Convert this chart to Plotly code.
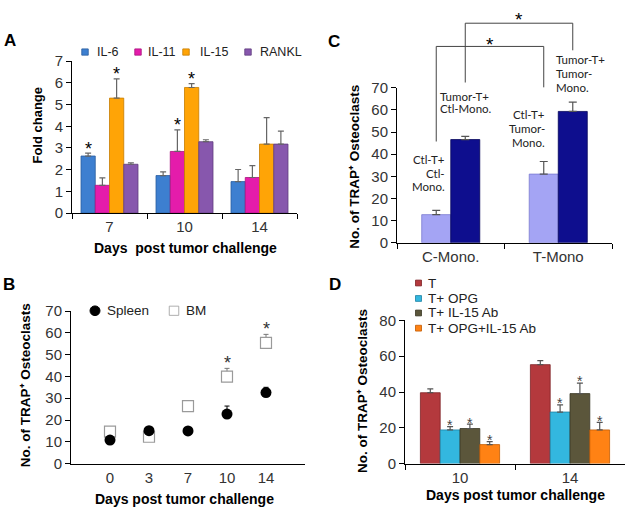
import plotly.graph_objects as go

W, H = 629, 518
FONT = "Liberation Sans, Arial, sans-serif"

# ---------------- data ----------------
# Panel A: fold change of cytokines
a_days = ["7", "10", "14"]
a_names = ["IL-6", "IL-11", "IL-15", "RANKL"]
a_il6 = [2.63, 1.73, 1.45]
a_il6_err = [0.13, 0.17, 0.56]
a_il11 = [1.28, 2.84, 1.64]
a_il11_err = [0.34, 1.00, 0.55]
a_il15 = [5.30, 5.79, 3.18]
a_il15_err = [0.89, 0.18, 1.22]
a_rankl = [2.25, 3.29, 3.18]
a_rankl_err = [0.07, 0.09, 0.60]
a_sig = [[1, 0, 0], [0, 1, 0], [1, 1, 0], [0, 0, 0]]
a_colors = ["#3d7fd0", "#e41cab", "#ffa406", "#8757ad"]
a_lines = ["#2a5d9e", "#a8137d", "#c77c00", "#5f3c7d"]

# Panel B: TRAP+ osteoclasts, spleen vs BM
b_days = ["0", "3", "7", "10", "14"]
b_spleen = [10.8, 15.1, 15.0, 22.7, 32.6]
b_spleen_err = [0, 0, 0, 3.7, 2.4]
b_bm = [14.7, 12.3, 26.4, 39.9, 55.4]
b_bm_err = [0, 0, 0, 3.8, 3.9]
b_sig = [0, 0, 0, 1, 1]

# Panel C: co-culture
c_groups = ["C-Mono.", "T-Mono"]
c_ctl_t = [12.7, 31.0]
c_ctl_t_err = [1.9, 5.7]
c_tumor_t = [46.6, 59.3]
c_tumor_t_err = [1.4, 4.2]
c_labels_ctl = [["Ctl-T+", "Ctl-", "Mono."], ["Ctl-T+", "Tumor-", "Mono."]]
c_labels_tumor = [["Tumor-T+", "Ctl-Mono."], ["Tumor-T+", "Tumor-", "Mono."]]

# Panel D: treatments
d_days = ["10", "14"]
d_names = ["T", "T+ OPG", "T+ IL-15 Ab", "T+ OPG+IL-15 Ab"]
d_t = [39.6, 55.3]
d_t_err = [2.2, 2.2]
d_opg = [18.8, 28.8]
d_opg_err = [1.9, 4.0]
d_il15ab = [19.6, 39.1]
d_il15ab_err = [2.4, 5.9]
d_combo = [10.6, 18.8]
d_combo_err = [1.7, 4.2]
d_sig = [[0, 0], [1, 1], [1, 1], [1, 1]]
d_colors = ["#b4393d", "#33b7df", "#5b563b", "#ff8214"]
d_lines = ["#7e2226", "#1c82a3", "#3a3724", "#c25a00"]

Y_TITLE_TRAP = "No. of TRAP\u207a Osteoclasts"
X_TITLE = "Days post tumor challenge"
X_TITLE_A = "Days  post tumor challenge"


def X(p):
    return p / W


def Y(p):
    return 1 - p / H


fig = go.Figure()
annotations = []
shapes = []

axis_common = dict(showline=True, linecolor="black", linewidth=1, ticks="outside",
                   ticklen=5, tickcolor="black", showgrid=False, zeroline=False,
                   tickfont=dict(family=FONT, size=15, color="#333"), fixedrange=True)


def star(x, y, xref, yref, size, above, color="black"):
    annotations.append(dict(x=x, y=y, xref=xref, yref=yref, text="*", showarrow=False,
                            font=dict(family=FONT, size=size, color=color),
                            yanchor="middle", xanchor="center",
                            yshift=above - 0.24 * size))


# ---------------- Panel A ----------------
wa = 0.19
a_vals = [a_il6, a_il11, a_il15, a_rankl]
a_errs = [a_il6_err, a_il11_err, a_il15_err, a_rankl_err]
for i, name in enumerate(a_names):
    off = (i - 2) * wa
    fig.add_bar(x=a_days, y=a_vals[i], width=wa, offset=off, name=name, showlegend=False,
                marker=dict(color=a_colors[i], line=dict(color=a_lines[i], width=0.8)),
                error_y=dict(type="data", array=a_errs[i], arrayminus=[0] * len(a_days),
                             symmetric=False, color="#666", thickness=1.2, width=3),
                xaxis="x", yaxis="y")
    for j in range(len(a_days)):
        if a_sig[i][j]:
            star(j + off + wa / 2, a_vals[i][j] + a_errs[i][j], "x", "y", 18, 9)

# ---------------- Panel B ----------------
fig.add_scatter(x=b_days, y=b_bm, mode="markers", name="BM", showlegend=False,
                marker=dict(symbol="square", size=11, color="white",
                            line=dict(color="#9a9a9a", width=1.2)),
                error_y=dict(type="data", array=b_bm_err, arrayminus=[0] * 5, symmetric=False,
                             color="#777", thickness=1, width=2.5),
                xaxis="x2", yaxis="y2")
fig.add_scatter(x=b_days, y=b_spleen, mode="markers", name="Spleen", showlegend=False,
                marker=dict(symbol="circle", size=11, color="black"),
                error_y=dict(type="data", array=b_spleen_err, arrayminus=[0] * 5, symmetric=False,
                             color="black", thickness=1, width=2.5),
                xaxis="x2", yaxis="y2")
for j, s in enumerate(b_sig):
    if s:
        star(j, b_bm[j] + b_bm_err[j], "x2", "y2", 18, 10, "#333")

# ---------------- Panel C ----------------
wc = 0.27
fig.add_bar(x=c_groups, y=c_ctl_t, width=wc, offset=-wc, name="Ctl-T", showlegend=False,
            marker=dict(color="#a4a4f4", line=dict(color="#7a7ad0", width=0.8)),
            error_y=dict(type="data", array=c_ctl_t_err, arrayminus=[0, 0], symmetric=False,
                         color="#555", thickness=1.2, width=4),
            xaxis="x3", yaxis="y3")
fig.add_bar(x=c_groups, y=c_tumor_t, width=wc, offset=0, name="Tumor-T", showlegend=False,
            marker=dict(color="#0e0e8e", line=dict(color="#06065a", width=0.8)),
            error_y=dict(type="data", array=c_tumor_t_err, arrayminus=[0, 0], symmetric=False,
                         color="#555", thickness=1.2, width=4),
            xaxis="x3", yaxis="y3")


# significance brackets (connect bar centres of the two groups)
def bracket(xl, xr, yl, yr, ytop, ystar):
    for (x0, y0, x1, y1) in [(xl, yl, xl, ytop), (xl, ytop, xr, ytop), (xr, ytop, xr, yr)]:
        shapes.append(dict(type="line", xref="x3", yref="paper", x0=x0, x1=x1,
                           y0=Y(y0), y1=Y(y1), line=dict(color="#444", width=1)))
    annotations.append(dict(x=(xl + xr) / 2, y=Y(ystar), xref="x3", yref="paper", text="*",
                            showarrow=False, font=dict(family=FONT, size=19, color="black"),
                            yanchor="middle", yshift=-4))


bracket(0 - wc / 2, 1 - wc / 2, 137, 81, 38.7, 33)
bracket(0 + wc / 2, 1 + wc / 2, 76, 42.7, 14.7, 7)

lab_font = dict(family="Lato, Carlito, sans-serif", size=11.5, color="#222")


def label_block(lines, x, ys, anchor):
    for line, yy in zip(lines, ys):
        annotations.append(dict(x=X(x), y=Y(yy), xref="paper", yref="paper", text=line,
                                showarrow=False, xanchor=anchor, yanchor="middle",
                                font=lab_font))


label_block(c_labels_ctl[0], 447, [156, 170, 184], "right")
label_block(c_labels_ctl[1], 547, [109, 124, 138.5], "right")
label_block(c_labels_tumor[0], 438, [90.5, 103], "left")
label_block(c_labels_tumor[1], 554, [52.5, 67, 81], "left")

# ---------------- Panel D ----------------
wd = 0.18
d_vals = [d_t, d_opg, d_il15ab, d_combo]
d_errs = [d_t_err, d_opg_err, d_il15ab_err, d_combo_err]
for i, name in enumerate(d_names):
    off = (i - 2) * wd
    fig.add_bar(x=d_days, y=d_vals[i], width=wd, offset=off, name=name, showlegend=False,
                marker=dict(color=d_colors[i], line=dict(color=d_lines[i], width=0.8)),
                error_y=dict(type="data", array=d_errs[i], arrayminus=[0] * len(d_days),
                             symmetric=False, color="#555", thickness=1.2, width=3),
                xaxis="x4", yaxis="y4")
    for j in range(len(d_days)):
        if d_sig[i][j]:
            star(j + off + wd / 2, d_vals[i][j] + d_errs[i][j], "x4", "y4", 14, 5, "#444")


# ---------------- legends (keys + labels) ----------------
def legend_text(x, y, text, size):
    annotations.append(dict(x=X(x), y=Y(y), xref="paper", yref="paper", text=text,
                            showarrow=False, xanchor="left", yanchor="middle",
                            font=dict(family=FONT, size=size, color="#222")))


def key_rect(cx, cy, s, color, line):
    shapes.append(dict(type="rect", xref="paper", yref="paper",
                       x0=X(cx - s / 2), x1=X(cx + s / 2), y0=Y(cy + s / 2), y1=Y(cy - s / 2),
                       fillcolor=color, line=dict(color=line, width=0.8)))


a_key_x = [85, 138, 186, 248]
a_txt_x = [95, 146, 198, 258]
for i, name in enumerate(a_names):
    key_rect(a_key_x[i], 44.5, 6.5, a_colors[i], a_lines[i])
    legend_text(a_txt_x[i], 44.5, name, 12.5)

# B legend
shapes.append(dict(type="circle", xref="paper", yref="paper", x0=X(90), x1=X(100),
                   y0=Y(317), y1=Y(307), fillcolor="black", line=dict(color="black", width=1)))
legend_text(105, 312, "Spleen", 13.5)
key_rect(174, 312, 9.5, "white", "#9a9a9a")
legend_text(184, 312, "BM", 13.5)

# D legend
d_key_y = [283.3, 299.3, 314.3, 330]
for i, name in enumerate(d_names):
    key_rect(418.5, d_key_y[i], 6, d_colors[i], d_lines[i])
    legend_text(425.5, d_key_y[i], name, 13.5)


# ---------------- titles & panel letters ----------------
def title(x, y, text, size=13.5, angle=0):
    annotations.append(dict(x=X(x), y=Y(y), xref="paper", yref="paper", text=text,
                            showarrow=False, textangle=angle, xanchor="center", yanchor="middle",
                            font=dict(family=FONT, size=size, color="black", weight="bold")))


title(185, 247.5, X_TITLE_A, 14)
title(38, 120.5, "Fold change", 13, -90)
title(184.5, 507, X_TITLE, 14)
title(25, 389, Y_TITLE_TRAP, 13.5, -90)
title(355, 163, Y_TITLE_TRAP, 13.5, -90)
title(515, 503, X_TITLE, 14)
title(362, 395, Y_TITLE_TRAP, 13.5, -90)
title(10, 33, "A", 17)
title(9, 284.5, "B", 17)
title(334, 34, "C", 17)
title(335, 285, "D", 17)

# ---------------- axes ----------------
fig.update_layout(
    width=W, height=H, margin=dict(l=0, r=0, t=0, b=0),
    paper_bgcolor="white", plot_bgcolor="white", barmode="overlay",
    font=dict(family=FONT, color="#222"),
    xaxis=dict(axis_common, domain=[X(72), X(297)], anchor="y", type="category",
               tickson="boundaries", range=[-0.5, 2.5]),
    yaxis=dict(axis_common, domain=[Y(211), Y(54)], anchor="x", range=[0, 7], dtick=1),
    xaxis2=dict(axis_common, domain=[X(71), X(305)], anchor="y2", type="category",
                range=[-1, 5], ticks=""),
    yaxis2=dict(axis_common, domain=[Y(470), Y(312.3)], anchor="x2", range=[0, 70], dtick=10),
    xaxis3=dict(axis_common, domain=[X(397), X(612)], anchor="y3", type="category",
                tickson="boundaries", range=[-0.5, 1.5]),
    yaxis3=dict(axis_common, domain=[Y(241.7), Y(81.4)], anchor="x3", range=[0, 70], dtick=10),
    xaxis4=dict(axis_common, domain=[X(405), X(625)], anchor="y4", type="category",
                tickson="boundaries", range=[-0.5, 1.5]),
    yaxis4=dict(axis_common, domain=[Y(470), Y(322)], anchor="x4", range=[0, 80], dtick=20),
    annotations=annotations, shapes=shapes,
)

fig.write_html(
    "out.html",
    config={"displayModeBar": False},
    post_script="document.body.style.margin='0';document.body.style.padding='0';"
                "document.body.style.overflow='hidden';",
)
